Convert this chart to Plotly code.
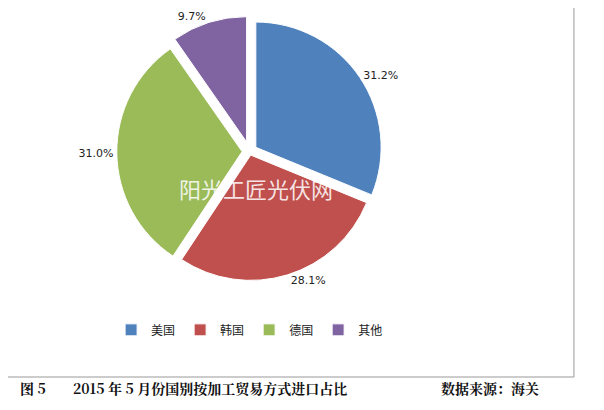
import plotly.graph_objects as go

labels = ["美国", "韩国", "德国", "其他"]
values = [31.2, 28.1, 31.0, 9.7]
colors = ["#4F81BD", "#C0504D", "#9BBB59", "#8064A2"]

fig = go.Figure(go.Pie(
    labels=labels, values=values, sort=False, direction="clockwise", rotation=0,
    marker=dict(colors=colors, line=dict(color="white", width=1)),
    pull=[0.06, 0.03, 0.06, 0.08],
    texttemplate="%{value:.1f}%", textposition="outside",
    textfont=dict(size=11, color="#222", family="DejaVu Sans"),
    domain=dict(x=[0.04, 0.76], y=[0.32, 0.98]), hoverinfo="skip",
    automargin=False,
))
fig.update_layout(
    width=604, height=410, margin=dict(l=0, r=0, t=0, b=0, autoexpand=False),
    paper_bgcolor="white", plot_bgcolor="white",
    legend=dict(orientation="h", x=0.40, xanchor="center", y=0.215, yanchor="middle",
                font=dict(size=12, family="Noto Sans CJK SC", color="#222"),
                traceorder="normal"),
    shapes=[dict(type="rect", xref="paper", yref="paper", x0=-0.01, x1=0.937,
                 y0=0.1, y1=1.01, line=dict(color="#999", width=1))],
    annotations=[
        dict(text="阳光工匠光伏网", x=0.41, y=0.56, xref="paper", yref="paper",
             showarrow=False, font=dict(size=22, color="rgba(255,255,255,0.85)",
                                        family="Noto Sans CJK SC")),
        dict(text="<b>图 5</b>", x=0.016, y=0.045, xref="paper", yref="paper", xanchor="left",
             showarrow=False, font=dict(size=14, color="#111", family="Noto Serif CJK SC, Liberation Serif, serif")),
        dict(text="<b>2015 年 5 月份国别按加工贸易方式进口占比</b>", x=0.105, y=0.045, xref="paper", yref="paper",
             xanchor="left", showarrow=False,
             font=dict(size=14, color="#111", family="Noto Serif CJK SC, Liberation Serif, serif")),
        dict(text="<b>数据来源：海关</b>", x=0.713, y=0.045, xref="paper", yref="paper",
             xanchor="left", showarrow=False,
             font=dict(size=14, color="#111", family="Noto Serif CJK SC, Liberation Serif, serif")),
    ],
)
fig.write_html("out.html")
